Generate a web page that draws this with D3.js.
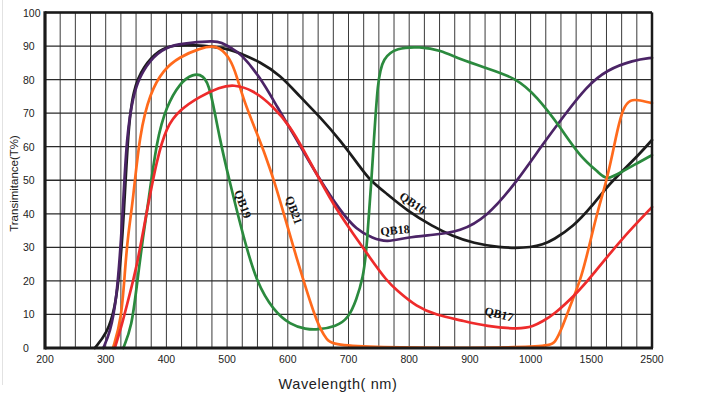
<!DOCTYPE html>
<html><head><meta charset="utf-8">
<script src="https://cdn.jsdelivr.net/npm/d3@7"></script>
<style>
html,body{margin:0;padding:0;background:#fff;}
svg{display:block;}
</style></head>
<body>
<svg id="chart" width="712" height="397"></svg>
<script>
// ---- data ----
const xTicks = [200,300,400,500,600,700,800,900,1000,1500,2500];
const yTicks = [0,10,20,30,40,50,60,70,80,90,100];

const qb16_wl = [282,302,315,324,330,337,345,362,389,411,450,477,505,521,554,587,620,653,686,719,735,763,796,839,870,906,950,975,1000,1100,1187,1352,1500,1754,2000,2303,2500];
const qb16_t  = [0,4.4,11.3,24.2,40,65,77,84,89,90.3,90.3,89.8,89,87.9,85.3,81.4,74.9,68.9,62,54,50,46,41,36.2,33.5,31.2,30,29.8,30,30.8,32.2,36.2,42,48,52.5,58,62];

const qb18_wl = [296,307,318,326,329,335,345,356,378,406,440,477,490,510,521,554,582,615,653,686,713,740,763,796,839,884,928,977,1105,1270,1462,1754,2193,2500];
const qb18_t  = [0,4.4,14.3,34,44,64,75,81,87,90.3,91,91.5,91.2,89,88,80.9,72,62,50,41,35.2,32.7,31.5,33,33.7,34.7,39,49.5,61,69,78,82.9,85.8,86.5];

const qb19_wl = [329,343,351,362,370,384,400,422,444,461,472,488,505,527,549,576,604,630,648,680,700,713,724,730,741,748,757,779,818,851,884,928,977,1050,1242,1406,1643,1754,2000,2250,2500];
const qb19_t  = [0,6.4,18.3,34,43,62,72,79,81.8,81.3,77.9,62,49,33,19.3,11.3,6.9,5.6,5.4,6.4,8.9,14.3,21,29,59,80,86.5,89.5,89.8,88.8,86,83.4,80.4,75,66,57,52,50,52.5,55,57.5];

const qb21_wl = [312,326,332,337,345,356,373,395,422,455,483,505,516,527,549,563,579,595,611,626,648,664,678,1147,1200,1260,1330,1420,1500,1600,1754,1863,1918,2027,2150,2248,2500];
const qb21_t  = [0,8.3,24,34,44,64,76,83,86.8,89.3,90.5,86.5,81,74,64,57.5,49,39,29,20,7.4,2.4,0,0,1.5,6,13,21,33,40.5,50,59,64,72,74,74,73];

const qb17_wl = [315,326,337,351,367,384,400,422,455,488,510,543,576,604,626,653,681,708,735,763,779,812,845,884,928,982,1022,1100,1187,1380,1490,1973,2500];
const qb17_t  = [0,6.4,14.3,24,40,56,66,71,75,77.7,78.6,76.9,72,66,59,50,41,34,27,20,17.3,12.3,9.8,8.3,6.4,5.6,6.4,8,9.8,16.3,20.8,32,42];

const seriesNames  = ["QB16","QB18","QB19","QB21","QB17"];
const seriesColors = ["#1c1c1c","#4b2466","#2b8a3e","#ff6a1c","#ee2b2b"];
const seriesWl = [qb16_wl,qb18_wl,qb19_wl,qb21_wl,qb17_wl];
const seriesT  = [qb16_t,qb18_t,qb19_t,qb21_t,qb17_t];

const labelPos = [
  {name:"QB16", x:413, y:203, rot:34},
  {name:"QB18", x:395, y:230, rot:-5},
  {name:"QB19", x:243, y:204, rot:70},
  {name:"QB21", x:294, y:210, rot:70},
  {name:"QB17", x:499, y:314, rot:14}
];

// ---- layout ----
const X0 = 45, X1 = 652, Y0 = 12.5, Y1 = 348;
const svg = d3.select("#chart");

const xRange = xTicks.map((d,i)=> X0 + (X1-X0)*i/(xTicks.length-1));
const x = d3.scaleLinear().domain(xTicks).range(xRange);
const y = d3.scaleLinear().domain([0,100]).range([Y1,Y0]);

// faint page edge
svg.append("line").attr("x1",2.5).attr("x2",2.5).attr("y1",0).attr("y2",385)
  .attr("stroke","#e2e2e2").attr("stroke-width",1);

// vertical grid: each interval split in 4
const gridX = [];
for (let i=0;i<xTicks.length-1;i++){
  for (let k=0;k<4;k++) gridX.push(xTicks[i] + (xTicks[i+1]-xTicks[i])*k/4);
}
gridX.push(xTicks[xTicks.length-1]);

const g = svg.append("g");
g.selectAll("line.vg").data(gridX).join("line").attr("class","vg")
  .attr("x1",d=>x(d)).attr("x2",d=>x(d)).attr("y1",Y0).attr("y2",Y1)
  .attr("stroke","#3a3a3a").attr("stroke-width",1);
g.selectAll("line.hg").data(yTicks).join("line").attr("class","hg")
  .attr("x1",X0).attr("x2",X1).attr("y1",d=>y(d)).attr("y2",d=>y(d))
  .attr("stroke","#2a2a2a").attr("stroke-width",1.3);

// curves
const line = d3.line().x(d=>x(d[0])).y(d=>y(d[1])).curve(d3.curveBasis);
seriesNames.forEach((n,i)=>{
  const pts = seriesWl[i].map((w,j)=>[w, seriesT[i][j]]);
  svg.append("path").datum(pts).attr("d",line)
    .attr("fill","none").attr("stroke",seriesColors[i])
    .attr("stroke-width",2.7).attr("stroke-linejoin","round").attr("stroke-linecap","round");
});

// frame
svg.append("line").attr("x1",X0).attr("x2",X1).attr("y1",Y0).attr("y2",Y0).attr("stroke","#1a1a1a").attr("stroke-width",2.5);
svg.append("line").attr("x1",X1).attr("x2",X1).attr("y1",Y0).attr("y2",Y1).attr("stroke","#1a1a1a").attr("stroke-width",2.5);
svg.append("line").attr("x1",X0).attr("x2",X1+1).attr("y1",Y1).attr("y2",Y1).attr("stroke","#1a1a1a").attr("stroke-width",3.2);
svg.append("line").attr("x1",X0).attr("x2",X0).attr("y1",Y0-1.2).attr("y2",Y1+1.6).attr("stroke","#1a1a1a").attr("stroke-width",3.2);

// axis labels
const font = "'Liberation Sans', Arial, sans-serif";
svg.selectAll("text.xt").data(xTicks).join("text").attr("class","xt")
  .attr("x",d=>x(d)).attr("y",363).attr("text-anchor","middle")
  .attr("font-family",font).attr("font-size",10.5).attr("fill","#222").text(d=>d);
svg.selectAll("text.yt").data(yTicks).join("text").attr("class","yt")
  .attr("x",23).attr("y",d=>y(d)+4).attr("text-anchor","start")
  .attr("font-family",font).attr("font-size",10.5).attr("fill","#222").text(d=>d);

svg.append("text").attr("transform","translate(18,183.5) rotate(-90)")
  .attr("text-anchor","middle").attr("font-family",font).attr("font-size",11.5)
  .attr("fill","#222").text("Transimitance(T%)");
svg.append("text").attr("x",338).attr("y",389).attr("text-anchor","middle")
  .attr("font-family",font).attr("font-size",14.5).attr("letter-spacing",0.6)
  .attr("fill","#222").text("Wavelength( nm)");

// series labels
svg.selectAll("text.sl").data(labelPos).join("text").attr("class","sl")
  .attr("transform",d=>`translate(${d.x},${d.y}) rotate(${d.rot})`)
  .attr("text-anchor","middle").attr("dy","0.35em")
  .attr("font-family","'Liberation Serif','Times New Roman',serif").attr("font-weight","bold")
  .attr("font-size",12).attr("fill","#111").text(d=>d.name);
</script>
</body></html>
